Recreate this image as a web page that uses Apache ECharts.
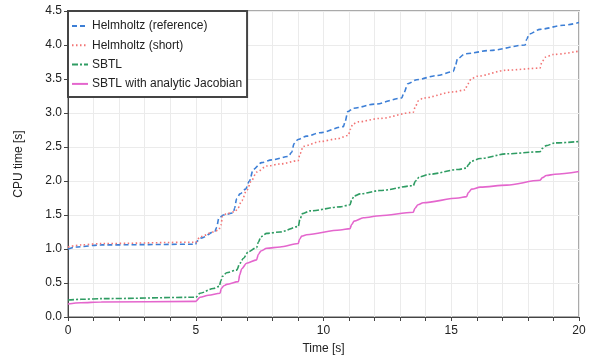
<!DOCTYPE html>
<html>
<head>
<meta charset="utf-8">
<script src="https://cdn.jsdelivr.net/npm/echarts@6/dist/echarts.min.js"></script>
<style>
  html, body {margin: 0; padding: 0; background: #fff;}
  #main {width: 591px; height: 360px;}
</style>
</head>
<body>
<div id="main"></div>
<script>
const names = ['Helmholtz (reference)', 'Helmholtz (short)', 'SBTL', 'SBTL with analytic Jacobian'];
const colors = ['#3d7fd6', '#f27474', '#2f9c63', '#e466cd'];

const refTime = [0,0.3,1.3,5.0,5.03,5.2,5.75,5.82,5.9,6.08,6.47,6.52,6.6,6.73,6.95,7.1,7.25,7.58,7.97,8.62,8.75,8.85,9.0,9.34,9.86,10.78,10.85,10.95,11.17,12.0,13.06,13.15,13.3,13.65,14.43,15.08,15.15,15.25,15.54,16.52,17.89,17.95,18.05,18.47,19.39,20];
const refCpu  = [1.00,1.03,1.06,1.07,1.11,1.16,1.26,1.32,1.45,1.50,1.53,1.60,1.74,1.81,1.88,2.00,2.17,2.27,2.31,2.36,2.42,2.55,2.61,2.66,2.71,2.80,2.88,3.02,3.07,3.13,3.22,3.30,3.43,3.49,3.55,3.61,3.68,3.80,3.87,3.92,4.00,4.08,4.16,4.23,4.29,4.33];

const shortTime = [0,0.5,1.3,5.0,5.17,5.69,5.9,5.98,6.05,6.2,6.54,6.65,6.8,6.99,7.19,7.38,7.78,8.3,9.01,9.08,9.21,9.86,10.52,10.97,11.05,11.15,11.36,12.2,13.51,13.6,13.72,13.9,15.08,15.54,15.65,15.78,16.0,17.17,18.47,18.55,18.68,18.99,20];
const shortCpu  = [1.03,1.06,1.08,1.10,1.18,1.25,1.28,1.35,1.48,1.52,1.55,1.60,1.71,1.86,2.01,2.13,2.22,2.25,2.30,2.40,2.51,2.58,2.62,2.67,2.76,2.84,2.87,2.92,3.01,3.10,3.18,3.22,3.31,3.34,3.43,3.50,3.54,3.63,3.66,3.75,3.82,3.86,3.91];

const sbtlTime = [0,0.5,1.3,5.0,5.17,5.69,5.92,5.98,6.05,6.21,6.6,6.73,6.86,7.06,7.38,7.45,7.55,7.78,8.3,9.01,9.08,9.18,9.47,10.65,11.04,11.1,11.2,11.43,12.21,13.51,13.6,13.75,14.17,15.28,15.6,15.67,15.78,16.13,17.17,18.47,18.57,18.72,19.06,20];
const sbtlCpu  = [0.25,0.26,0.27,0.29,0.35,0.42,0.45,0.53,0.60,0.65,0.69,0.79,0.86,0.96,1.02,1.10,1.18,1.23,1.25,1.33,1.44,1.52,1.56,1.62,1.65,1.72,1.78,1.81,1.86,1.93,2.00,2.06,2.10,2.17,2.19,2.24,2.29,2.33,2.40,2.43,2.48,2.52,2.56,2.58];

const jacTime = [0,0.5,1.3,5.0,5.17,5.5,5.95,6.0,6.1,6.21,6.67,6.72,6.8,6.99,7.38,7.45,7.55,7.78,8.3,9.01,9.06,9.15,9.34,10.65,11.04,11.1,11.2,11.56,12.21,13.51,13.58,13.7,13.9,15.28,15.6,15.67,15.8,16.13,17.17,18.47,18.57,18.72,19.06,20];
const jacCpu  = [0.19,0.21,0.22,0.23,0.29,0.32,0.35,0.42,0.46,0.48,0.52,0.62,0.71,0.79,0.84,0.92,0.97,1.01,1.03,1.08,1.14,1.19,1.21,1.28,1.30,1.36,1.41,1.46,1.49,1.54,1.60,1.65,1.68,1.75,1.77,1.83,1.88,1.91,1.94,2.01,2.05,2.08,2.10,2.14];

const dashes = [[5, 3], [1.5, 2.5], [6, 2, 2, 2], 'solid'];

const zip = (t, v) => t.map((x, i) => [x, v[i]]);
const seriesData = [zip(refTime, refCpu), zip(shortTime, shortCpu), zip(sbtlTime, sbtlCpu), zip(jacTime, jacCpu)];

const chart = echarts.init(document.getElementById('main'));
chart.setOption({
  animation: false,
  textStyle: {fontFamily: 'Liberation Sans, Arial, sans-serif'},
  grid: {left: 68, right: 12, top: 11, bottom: 41, show: true, borderColor: '#aaaaaa', borderWidth: 2},
  legend: {
    orient: 'vertical',
    left: 68, top: 11,
    data: names,
    itemWidth: 16, itemHeight: 12, itemGap: 7.3,
    padding: [9, 5, 7, 3],
    borderColor: '#444', borderWidth: 2,
    backgroundColor: '#fff',
    itemStyle: {opacity: 0},
    textStyle: {fontSize: 12, color: '#222', padding: [0, 0, 0, -1]}
  },
  xAxis: {
    type: 'value', min: 0, max: 20, interval: 1,
    name: 'Time [s]', nameLocation: 'middle', nameGap: 26,
    nameTextStyle: {fontSize: 12, color: '#222'},
    axisLine: {lineStyle: {color: '#444', width: 1}},
    axisTick: {show: true, length: 4, lineStyle: {color: '#444'}},
    axisLabel: {fontSize: 12, color: '#222', margin: 8, formatter: v => (v % 5 === 0 ? String(v) : '')},
    splitLine: {show: true, lineStyle: {color: '#ebebeb', width: 1}}
  },
  yAxis: {
    type: 'value', min: 0, max: 4.5, interval: 0.5,
    name: 'CPU time [s]', nameLocation: 'middle', nameGap: 43,
    nameTextStyle: {fontSize: 12, color: '#222'},
    axisLine: {show: true, lineStyle: {color: '#444', width: 1}},
    axisTick: {show: true, length: 4, lineStyle: {color: '#444'}},
    axisLabel: {fontSize: 12, color: '#222', margin: 6, formatter: v => v.toFixed(1)},
    splitLine: {show: true, lineStyle: {color: '#ebebeb', width: 1}}
  },
  series: names.map((n, i) => ({
    name: n,
    type: 'line',
    data: seriesData[i],
    symbol: 'none',
    smooth: 0.3,
    smoothMonotone: 'x',
    color: colors[i],
    lineStyle: {color: colors[i], width: 1.6, type: dashes[i]}
  }))
});
</script>
</body>
</html>
